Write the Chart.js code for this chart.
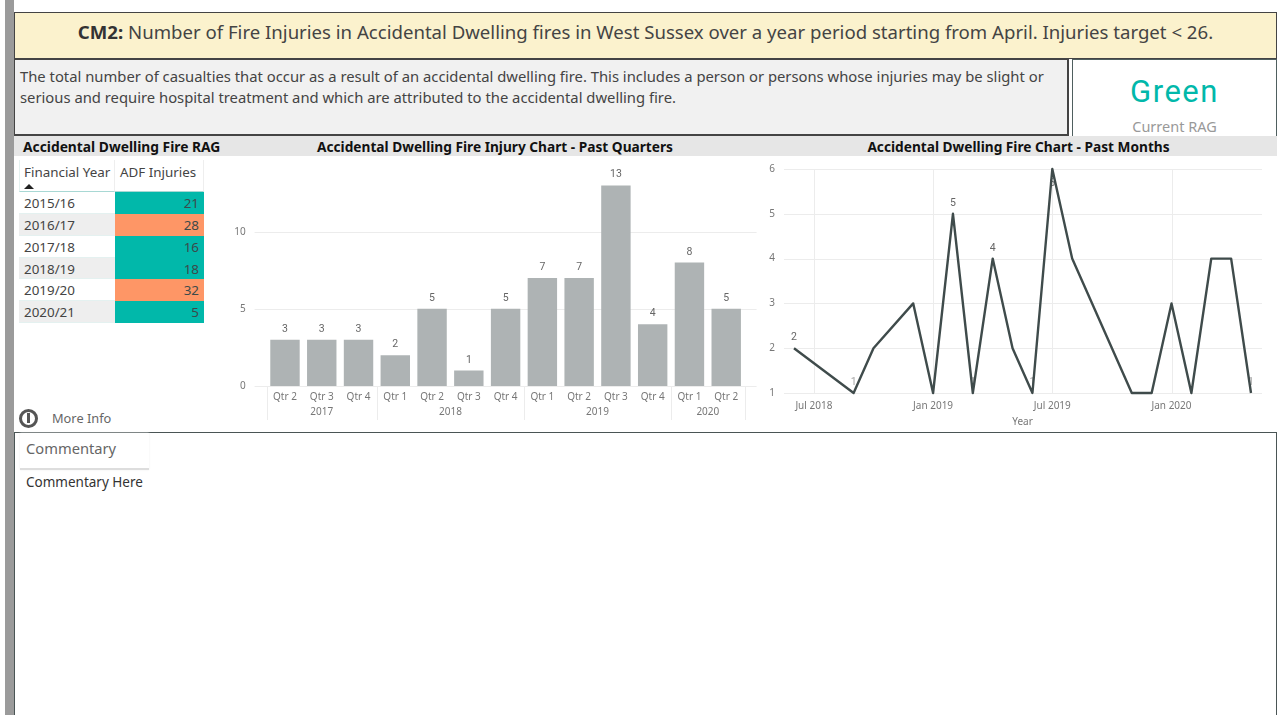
<!DOCTYPE html>
<html><head><meta charset="utf-8">
<script src="https://cdn.jsdelivr.net/npm/chart.js@4"></script>
<style>
html,body{margin:0;padding:0;width:1287px;height:715px;overflow:hidden;background:#fff;font-family:"Noto Sans","Open Sans",sans-serif;color:#333}
.a{position:absolute;box-sizing:border-box}
.t{white-space:nowrap}
canvas{position:absolute}
#tbl div{position:absolute;box-sizing:border-box;white-space:nowrap;font-size:13.4px;line-height:22px;color:#444}
</style></head><body>
<div class="a" style="left:5px;top:0;width:9px;height:715px;background:#9b9b9b"></div>
<div class="a t" style="left:14px;top:12px;width:1263px;height:47px;background:#fbf2cd;border:1px solid #444;text-align:center;font-size:18.6px;line-height:37px;color:#444"><b style="color:#333">CM2:</b> Number of Fire Injuries in Accidental Dwelling fires in West Sussex over a year period starting from April. Injuries target &lt; 26.</div>
<div class="a" style="left:14px;top:59px;width:1055px;height:77px;background:#f1f1f1;border:1px solid #444;border-width:1px 2px 2px 1px;font-size:14.8px;line-height:21px;padding:6px 5px;color:#444">The total number of casualties that occur as a result of an accidental dwelling fire. This includes a person or persons whose injuries may be slight or serious and require hospital treatment and which are attributed to the accidental dwelling fire.</div>
<div class="a" style="left:1072px;top:59px;width:205px;height:77px;background:#fff;border:1px solid #4f5f5f;border-bottom:0"></div>
<div class="a t" style="left:1072px;top:70px;width:205px;text-align:center;font:400 31px/44px Roboto,sans-serif;color:#01b8aa;letter-spacing:1.5px">Green</div>
<div class="a t" style="left:1072px;top:116px;width:205px;text-align:center;font-size:14.5px;line-height:20px;color:#999">Current RAG</div>
<div class="a" style="left:14px;top:136px;width:1263px;height:20px;background:#e6e6e6"></div>
<div class="a t" style="left:23px;top:136px;font-size:13.8px;font-weight:700;line-height:21px;color:#111">Accidental Dwelling Fire RAG</div>
<div class="a t" style="left:215px;top:136px;width:560px;text-align:center;font-size:13.7px;font-weight:700;line-height:21px;color:#111">Accidental Dwelling Fire Injury Chart - Past Quarters</div>
<div class="a t" style="left:760px;top:136px;width:517px;text-align:center;font-size:13.7px;font-weight:700;line-height:21px;color:#111">Accidental Dwelling Fire Chart - Past Months</div>
<div id="tbl" class="a" style="left:0;top:0"></div>
<div class="a" style="left:19px;top:409px;width:19px;height:19px;border:3px solid #555;border-radius:50%"></div>
<div class="a" style="left:27px;top:413px;width:3px;height:10px;background:#555"></div>
<div class="a t" style="left:52px;top:408px;font-size:12.8px;line-height:20px;color:#666">More Info</div>
<div class="a" style="left:14px;top:432px;width:1263px;height:290px;border:1px solid #4a5555"></div>
<div class="a t" style="left:20px;top:433px;width:129px;height:37px;background:#fff;border-bottom:2px solid #ddd;box-shadow:0 0 2px #eee;padding-left:6px;font-size:14.7px;line-height:31px;color:#666">Commentary</div>
<div class="a t" style="left:26px;top:472px;font-size:13.5px;line-height:20px;color:#333">Commentary Here</div>
<canvas id="bar" width="545" height="275" style="left:215px;top:156px"></canvas>
<canvas id="line" width="517" height="275" style="left:760px;top:156px"></canvas>
<script>
const finYears=["2015/16","2016/17","2017/18","2018/19","2019/20","2020/21"];
const adfInjuries=[21,28,16,18,32,5];
const ragColours=["#01b8aa","#fe9666","#01b8aa","#01b8aa","#fe9666","#01b8aa"];

const quarters=["Qtr 2","Qtr 3","Qtr 4","Qtr 1","Qtr 2","Qtr 3","Qtr 4","Qtr 1","Qtr 2","Qtr 3","Qtr 4","Qtr 1","Qtr 2"];
const quarterYears=["2017","2018","2019","2020"];
const quartersPerYear=[3,4,4,2];
const quarterInjuries=[3,3,3,2,5,1,5,7,7,13,4,8,5];

const months=["Jun 2018","Jul 2018","Aug 2018","Sep 2018","Oct 2018","Nov 2018","Dec 2018","Jan 2019","Feb 2019","Mar 2019","Apr 2019","May 2019","Jun 2019","Jul 2019","Aug 2019","Sep 2019","Oct 2019","Nov 2019","Dec 2019","Jan 2020","Feb 2020","Mar 2020","Apr 2020","May 2020"];
const monthInjuries=[2,null,null,1,2,null,3,1,5,1,4,2,1,6,4,null,null,1,1,3,1,4,4,1];
const labelledMonths=["Jun 2018","Sep 2018","Feb 2019","Mar 2019","Apr 2019","Jun 2019","Jul 2019","May 2020"];
const monthTicks=["Jul 2018","Jan 2019","Jul 2019","Jan 2020"];

// ---- table
const tbl=document.getElementById('tbl');
function cell(l,t,w,h,txt,css){const d=document.createElement('div');d.style.cssText=`left:${l}px;top:${t}px;width:${w}px;height:${h}px;${css||''}`;d.textContent=txt;tbl.appendChild(d);return d;}
cell(19,160,96,32,"",'border-left:1px solid #e4f1f0;border-bottom:1px solid #a8d8d4;border-right:1px solid #eee');
cell(115,160,89,32,"",'border-right:1px solid #eee;border-bottom:1px solid #a8d8d4');
cell(24,161,92,22,"Financial Year",'color:#444');
cell(120,161,84,22,"ADF Injuries",'color:#444');
cell(24,184,10,6,"",'width:0;height:0;border-left:5px solid transparent;border-right:5px solid transparent;border-bottom:5px solid #222');
const rowTops=[192,214,236,258,279,301,323];
finYears.forEach((y,i)=>{
  const t=rowTops[i],h=rowTops[i+1]-t;
  cell(19,t,96,h,"",'background:'+(i%2?'#eeeeee':'#fff')+';border-bottom:1px solid #e4f1f0');
  cell(24,t,90,h,y,'color:#444;line-height:23px');
  cell(115,t,89,h,adfInjuries[i],'background:'+ragColours[i]+';text-align:right;padding-right:5px;line-height:23px;color:#3c4a4a');
});

// ---- shared
const tickFont={family:"'Noto Sans','Open Sans',sans-serif",size:10};
const tickCol='#777';
const gridCol='#ececec';
const labelFont="10.5px Roboto, sans-serif";
function noPad(s){s.paddingTop=0;s.paddingBottom=0;s.paddingLeft=0;s.paddingRight=0;}

// ---- bar chart
const barExtras={id:'barExtras',
  beforeDatasetsDraw(c){
    const g=c.ctx,y=c.scales.y,x=c.scales.x;
    g.save();g.strokeStyle=gridCol;g.lineWidth=1;
    [0,5,10].forEach(v=>{const p=Math.round(y.getPixelForValue(v))+.5;g.beginPath();g.moveTo(x.left-12,p);g.lineTo(x.right+12,p);g.stroke();});
    g.restore();
  },
  afterDatasetsDraw(c){
    const g=c.ctx,m=c.getDatasetMeta(0),x=c.scales.x,base=c.scales.y.getPixelForValue(0);
    g.save();g.font=labelFont;g.fillStyle='#666';g.textAlign='center';g.textBaseline='alphabetic';
    m.data.forEach((b,i)=>g.fillText(quarterInjuries[i],b.x,b.y-8));
    const step=x.getPixelForValue(1)-x.getPixelForValue(0);
    let start=0;g.strokeStyle=gridCol;
    const sep=i=>{const p=Math.round(x.getPixelForValue(0)-step/2+i*step)+.5;g.beginPath();g.moveTo(p,base);g.lineTo(p,base+34);g.stroke();};
    sep(0);
    g.font="10px 'Noto Sans','Open Sans',sans-serif";g.fillStyle=tickCol;
    quarterYears.forEach((yr,k)=>{
      const end=start+quartersPerYear[k];
      g.fillText(yr,x.getPixelForValue(0)-step/2+(start+end)/2*step,base+29);
      sep(end);start=end;
    });
    g.restore();
  }};
new Chart(document.getElementById('bar'),{
  type:'bar',
  data:{labels:quarters,datasets:[{data:quarterInjuries,backgroundColor:'#aeb3b4',barPercentage:.8,categoryPercentage:1}]},
  options:{responsive:false,animation:false,
    layout:{padding:{top:14,right:15.4,left:0,bottom:0}},
    plugins:{legend:{display:false},tooltip:{enabled:false}},
    scales:{
      x:{offset:true,grid:{display:false,drawTicks:false},border:{display:false},
        ticks:{color:tickCol,font:tickFont,padding:5,maxRotation:0,autoSkip:false},
        afterFit(s){s.height=45;noPad(s);}},
      y:{min:0,max:14,grid:{display:false,drawTicks:false},border:{display:false},
        ticks:{stepSize:5,includeBounds:false,color:tickCol,font:tickFont,padding:21},
        afterFit(s){s.width=51.6;noPad(s);}}
    }},
  plugins:[barExtras]
});

// ---- line chart
const lineExtras={id:'lineExtras',
  beforeDatasetsDraw(c){
    const g=c.ctx,x=c.scales.x,y=c.scales.y;
    g.save();g.strokeStyle=gridCol;g.lineWidth=1;
    [1,2,3,4,5,6].forEach(v=>{const p=Math.round(y.getPixelForValue(v))+.5;g.beginPath();g.moveTo(x.left-10,p);g.lineTo(x.right+11,p);g.stroke();});
    monthTicks.forEach(m=>{const p=Math.round(x.getPixelForValue(months.indexOf(m)))+.5;g.beginPath();g.moveTo(p,y.top);g.lineTo(p,y.bottom);g.stroke();});
    g.font=labelFont;g.fillStyle='#666';g.textAlign='center';
    labelledMonths.forEach(m=>{const i=months.indexOf(m),v=monthInjuries[i];
      const px=x.getPixelForValue(i),py=y.getPixelForValue(v);
      const below=v===y.max;
      g.globalAlpha=v===1?0.6:1;
      g.fillText(v,px,below?py+17:py-8);});
    g.restore();
  }};
new Chart(document.getElementById('line'),{
  type:'line',
  data:{labels:months,datasets:[{data:monthInjuries,borderColor:'#3f4b4b',borderWidth:2.4,pointRadius:0,spanGaps:true,tension:0,clip:false,borderJoinStyle:'round'}]},
  options:{responsive:false,animation:false,
    layout:{padding:{top:13,right:26,left:0,bottom:0}},
    plugins:{legend:{display:false},tooltip:{enabled:false}},
    scales:{
      x:{offset:false,grid:{display:false,drawTicks:false},border:{display:false},
        title:{display:true,text:'Year',color:tickCol,font:tickFont,padding:{top:2,bottom:3}},
        ticks:{color:tickCol,font:tickFont,padding:7,maxRotation:0,autoSkip:false,
          callback(v,i){const l=months[i];return monthTicks.includes(l)?l:'';}},
        afterFit(s){s.height=38;noPad(s);}},
      y:{min:1,max:6,grid:{display:false,drawTicks:false},border:{display:false},
        ticks:{stepSize:1,color:tickCol,font:tickFont,padding:19},
        afterFit(s){s.width=34;noPad(s);}}
    }},
  plugins:[lineExtras]
});
</script>
</body></html>
